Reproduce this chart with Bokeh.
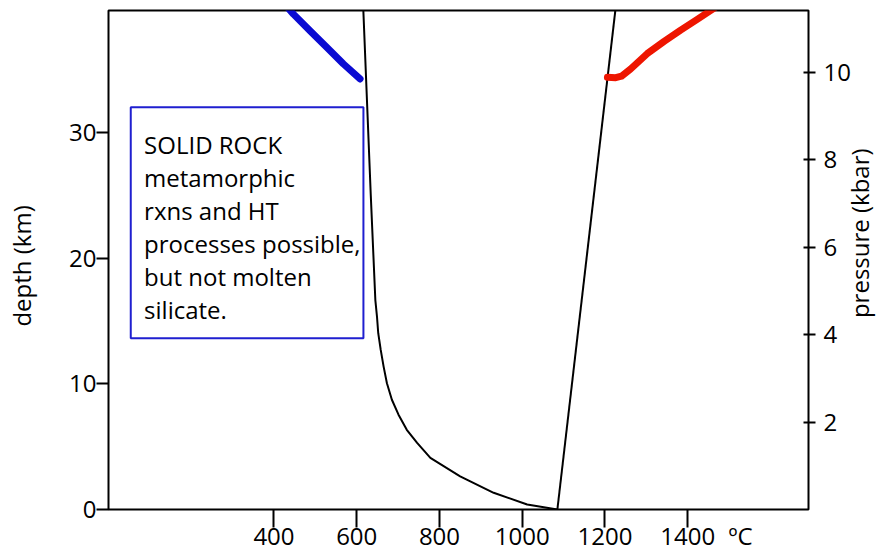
import math
from bokeh.plotting import figure
from bokeh.models import Range1d, LinearAxis, FixedTicker, BoxAnnotation, Label
from bokeh.core.properties import value
from bokeh.embed import file_html
from bokeh.resources import INLINE

# ---- data ----
temp_ticks = [400, 600, 800, 1000, 1200, 1400]
depth_ticks = [0, 10, 20, 30]
pressure_ticks = [2, 4, 6, 8, 10]
unit_label_T = 1528          # where the "ºC" unit sits on the temperature axis

solidus_T = [1085, 1012, 931, 850, 778, 746, 721, 701, 685, 673, 665, 658, 652, 649, 645, 634, 616, 615]
solidus_depth = [0, 0.40, 1.33, 2.64, 4.11, 5.30, 6.35, 7.55, 8.74, 10.06, 11.38, 12.71, 14.04, 15.35, 16.68, 25.0, 39.74, 40.5]

liquidus_T = [1085, 1226]
liquidus_depth = [0, 40.0]

blue_T = [419, 447, 487, 528, 568, 608]
blue_depth = [40.51, 39.45, 38.13, 36.80, 35.48, 34.29]

red_T = [1206, 1226, 1240, 1262, 1302, 1343, 1383, 1424, 1464, 1488]
red_depth = [34.42, 34.39, 34.51, 35.08, 36.30, 37.28, 38.18, 39.05, 39.93, 40.51]

box_lines = ["SOLID ROCK", "metamorphic", "rxns and HT",
             "processes possible,", "but not molten", "silicate."]

T_MAX = 1692
DEPTH_MAX = 39.74
KM_PER_KBAR = 3.481
P_MAX = DEPTH_MAX / KM_PER_KBAR

FONT = "Open Sans"
FS = "24px"

p = figure(width=877, height=554, output_backend="svg", toolbar_location=None,
           x_range=Range1d(0, T_MAX), y_range=Range1d(0, DEPTH_MAX),
           min_border_left=108, min_border_right=69, min_border_top=10,
           min_border_bottom=44)
p.background_fill_color = "white"
p.border_fill_color = "white"
p.xgrid.visible = False
p.ygrid.visible = False
p.outline_line_color = "black"
p.outline_line_width = 2
p.outline_line_alpha = 1

p.extra_y_ranges = {"p": Range1d(0, P_MAX)}
right_axis = LinearAxis(y_range_name="p", ticker=FixedTicker(ticks=pressure_ticks))
p.add_layout(right_axis, "right")

# inner bottom axis: tick marks only
tick_axis = p.xaxis[0]
tick_axis.ticker = FixedTicker(ticks=temp_ticks)
tick_axis.major_label_overrides = {t: "" for t in temp_ticks}
# outer bottom axis: the tick labels and the unit
label_axis = LinearAxis(ticker=FixedTicker(ticks=temp_ticks + [unit_label_T]),
                        major_label_overrides={unit_label_T: "ºC"})
p.add_layout(label_axis, "below")

left_axis = p.yaxis[0]
left_axis.ticker = FixedTicker(ticks=depth_ticks)

for ax in [tick_axis, label_axis, left_axis, right_axis]:
    ax.axis_line_color = None
    ax.major_tick_line_color = "black"
    ax.major_tick_line_width = 2
    ax.minor_tick_line_color = None
    ax.major_label_text_font = FONT
    ax.major_label_text_font_size = FS
    ax.major_label_text_color = "black"

tick_axis.major_tick_in = 0
tick_axis.major_tick_out = 18
tick_axis.major_label_standoff = 0
tick_axis.major_label_text_font_size = "1px"

label_axis.major_tick_line_color = None
label_axis.major_tick_in = 0
label_axis.major_tick_out = 0
label_axis.major_label_standoff = -9

left_axis.major_tick_in = 0
left_axis.major_tick_out = 12
left_axis.major_label_standoff = 0

right_axis.major_tick_in = 5
right_axis.major_tick_out = 7
right_axis.major_label_standoff = 8

# axis titles: annotations held in the (roomier) left side panel, positioned by data coordinates
p.add_layout(Label(x=-210, y=19.4, text="depth (km)", angle=math.pi / 2,
                   text_font=FONT, text_font_size=FS, text_color="black",
                   text_align="center", text_baseline="middle"), "left")
p.add_layout(Label(x=1815, y=22.0, text="pressure (kbar)", angle=math.pi / 2,
                   text_font=FONT, text_font_size=FS, text_color="black",
                   text_align="center", text_baseline="middle"), "left")

# curves
p.line(solidus_T, solidus_depth, line_color="black", line_width=2)
p.line(liquidus_T, liquidus_depth, line_color="black", line_width=2)
p.line(blue_T, blue_depth, line_color="#0a0ad2", line_width=7, line_cap="round", line_join="round")
p.line(red_T, red_depth, line_color="#ee1500", line_width=7, line_cap="round", line_join="round")

# text box
box = BoxAnnotation(left=53.8, right=616.2, bottom=13.64, top=32.03,
                    fill_color=None, fill_alpha=0, line_color="#1f1fd0",
                    line_alpha=1, line_width=2)
p.add_layout(box)

line_step = 2.637
first_line_y = 29.08
p.text(x=[86] * len(box_lines),
       y=[first_line_y - i * line_step for i in range(len(box_lines))],
       text=box_lines, text_font=value(FONT), text_font_size=FS,
       text_color="black", text_baseline="alphabetic", text_align="left")

open("out.html", "w").write(file_html(p, INLINE))
